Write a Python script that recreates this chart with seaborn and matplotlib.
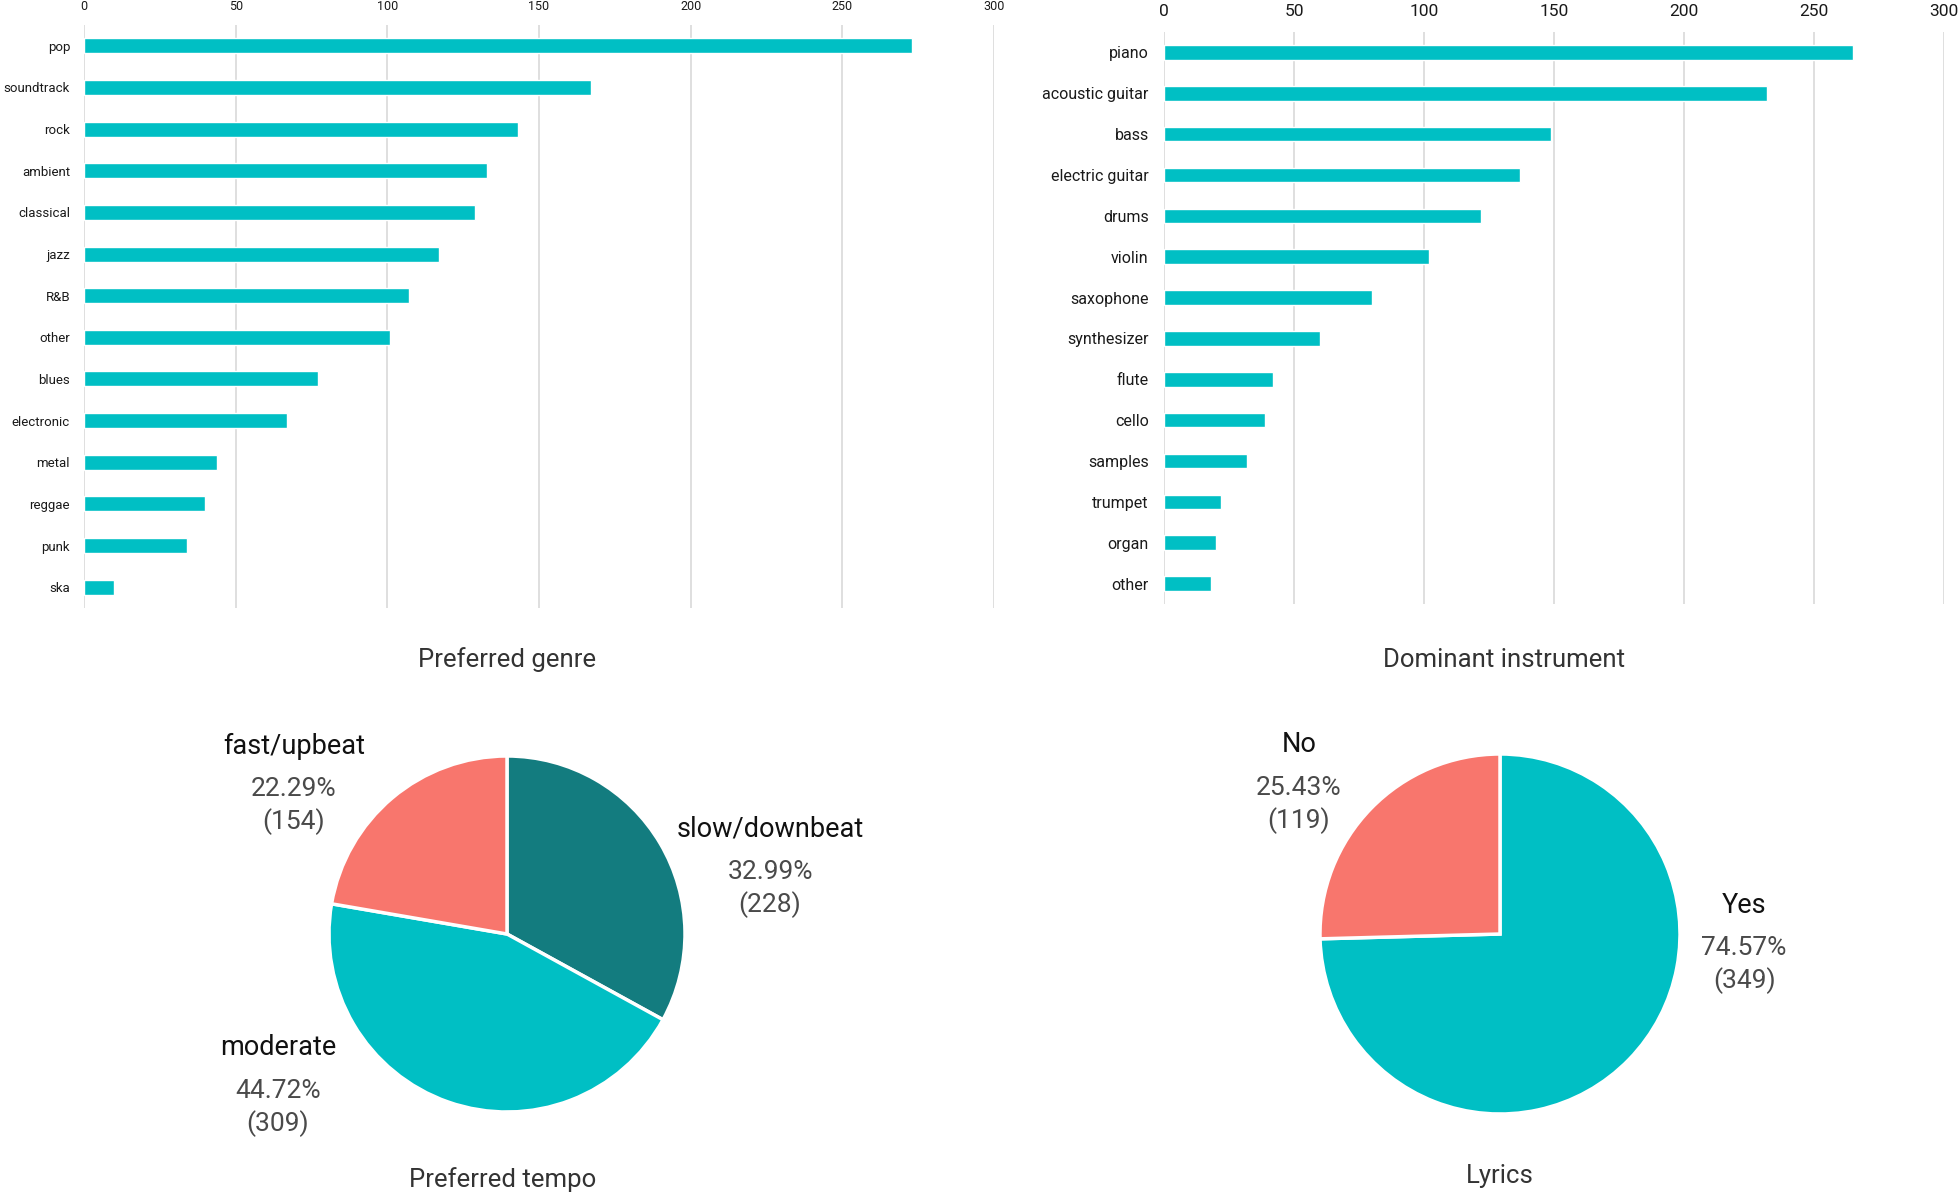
import matplotlib
matplotlib.use("Agg")

import matplotlib.pyplot as plt
import seaborn as sns


genres = [
    "pop", "soundtrack", "rock", "ambient", "classical", "jazz", "R&B",
    "other", "blues", "electronic", "metal", "reggae", "punk", "ska"
]
genre_counts = [273, 167, 143, 133, 129, 117, 107, 101, 77, 67, 44, 40, 34, 10]

instruments = [
    "piano", "acoustic guitar", "bass", "electric guitar", "drums", "violin",
    "saxophone", "synthesizer", "flute", "cello", "samples", "trumpet",
    "organ", "other"
]
instrument_counts = [265, 232, 149, 137, 122, 102, 80, 60, 42, 39, 32, 22, 20, 18]

tempo_labels = ["slow/downbeat", "moderate", "fast/upbeat"]
tempo_counts = [228, 309, 154]
tempo_pct = ["32.99%", "44.72%", "22.29%"]

lyrics_labels = ["Yes", "No"]
lyrics_counts = [349, 119]
lyrics_pct = ["74.57%", "25.43%"]

x_ticks = [0, 50, 100, 150, 200, 250, 300]


CYAN = "#00BFC4"
SALMON = "#F8766D"
DARK_TEAL = "#137C7F"
GRID = "#D9D9D9"

sns.set_theme(style="white")
plt.rcParams["font.family"] = ["Roboto", "DejaVu Sans"]

W, H = 1960, 1198
fig = plt.figure(figsize=(W / 100, H / 100), dpi=100)


def px_axes(left, top, right, bottom):
    return fig.add_axes([
        left / W,
        1 - bottom / H,
        (right - left) / W,
        (bottom - top) / H
    ])


def bar_panel(ax, labels, counts, label_size, tick_size, ypad, xpad):

    sns.barplot(
        x=counts,
        y=labels,
        color=CYAN,
        width=0.36,
        saturation=1,
        ax=ax,
        zorder=3
    )

    ax.set_xlim(0, 300)
    ax.set_xticks(x_ticks)
    ax.xaxis.tick_top()
    ax.grid(axis="x", color=GRID, linewidth=1.2, zorder=0)
    ax.grid(axis="y", visible=False)

    ax.tick_params(axis="y", length=0, pad=ypad, labelsize=label_size, labelcolor="#1a1a1a")
    ax.tick_params(axis="x", length=0, pad=xpad, labelsize=tick_size, labelcolor="#1a1a1a")

    ax.set_xlabel("")
    ax.set_ylabel("")

    sns.despine(ax=ax, left=True, bottom=True, top=True, right=True)


ax1 = px_axes(84, 25, 994, 608)
bar_panel(ax1, genres, genre_counts, 9.5, 9, 10, 9)

ax2 = px_axes(1164, 32, 1944, 604)
bar_panel(ax2, instruments, instrument_counts, 11.5, 12.5, 11, 9)


def pie_panel(cx, cy, r, counts, colors, names, pcts, label_pos):

    S = 260

    ax = px_axes(cx - S, cy - S, cx + S, cy + S)

    ax.pie(
        counts,
        colors=colors,
        startangle=90,
        counterclock=False,
        wedgeprops=dict(edgecolor="white", linewidth=2.5)
    )

    lim = S / r
    ax.set_xlim(-lim, lim)
    ax.set_ylim(-lim, lim)

    for name, pct, n, (lx, ly) in zip(names, pcts, counts, label_pos):

        ax.text(lx, ly, name, ha="center", va="center",
                fontsize=19.5, color="#111111")

        ax.text(lx, ly - 43 / r, pct, ha="center", va="center",
                fontsize=19, color="#4a4a4a")

        ax.text(lx, ly - 76 / r, f"({n})", ha="center", va="center",
                fontsize=19, color="#4a4a4a")

    return ax


pie_panel(
    507, 934, 178,
    tempo_counts,
    [DARK_TEAL, CYAN, SALMON],
    tempo_labels,
    tempo_pct,
    [(1.478, 0.59), (-1.287, -0.64), (-1.197, 1.056)]
)

pie_panel(
    1500, 934, 180,
    lyrics_counts,
    [CYAN, SALMON],
    lyrics_labels,
    lyrics_pct,
    [(1.356, 0.161), (-1.117, 1.05)]
)


titles = ["Preferred genre", "Dominant instrument", "Preferred tempo", "Lyrics"]
title_xy = [(507, 660), (1504, 660), (503, 1180), (1500, 1176)]

for t, (tx, ty) in zip(titles, title_xy):

    fig.text(
        tx / W,
        1 - ty / H,
        t,
        ha="center",
        va="center",
        fontsize=18.5,
        color="#333333"
    )


plt.savefig("out.png", dpi=100, facecolor="white")

plt.close()
